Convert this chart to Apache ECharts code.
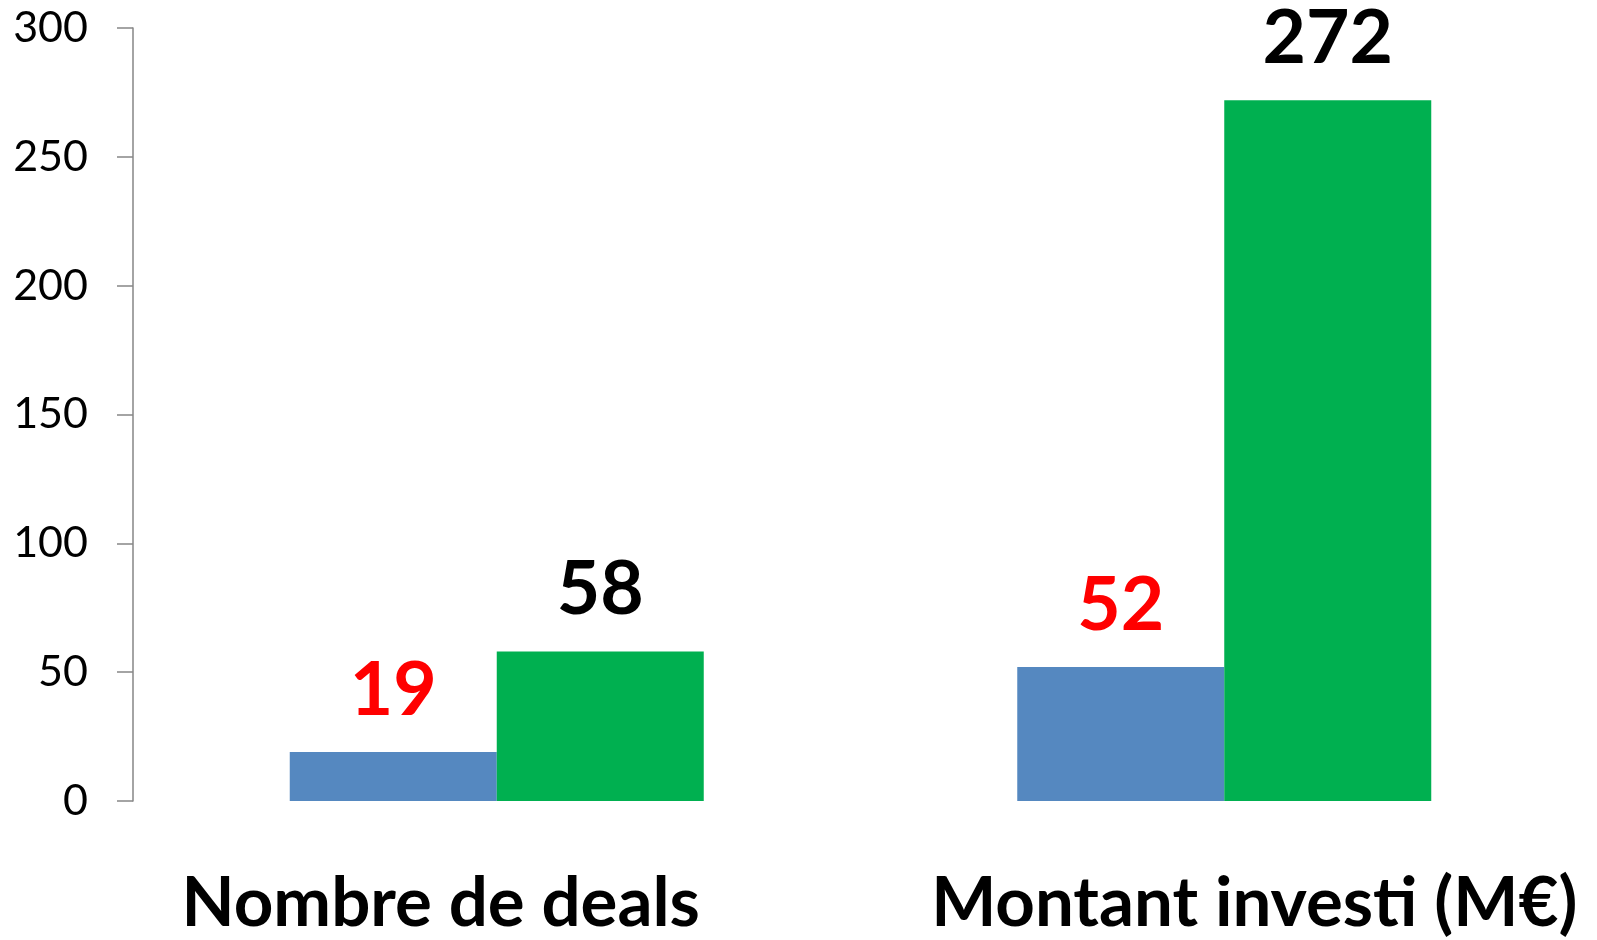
<!DOCTYPE html>
<html>
<head>
<meta charset="utf-8">
<style>
  html, body { margin: 0; padding: 0; background: #fff; }
  #chart { width: 1597px; height: 940px; }
</style>
<script src="https://cdn.jsdelivr.net/npm/echarts@6/dist/echarts.min.js"></script>
</head>
<body>
<div id="chart"></div>
<script>
// catégories et valeurs
const categories = ['Nombre de deals', 'Montant investi (M€)']
const blueValues = [19, 52]
const greenValues = [58, 272]
// graduations de l'axe Y
const yTicks = [0, 50, 100, 150, 200, 250, 300]

const chart = echarts.init(document.getElementById('chart'))

chart.setOption({
  animation: false,
  grid: {
    left: 133,
    right: 9,
    top: 28,
    bottom: 139
  },
  xAxis: {
    type: 'category',
    data: categories,
    axisLine: { show: false },
    axisTick: { show: false },
    axisLabel: {
      margin: 68,
      // décalage des libellés comme dans l'original
      formatter: (value, idx) => idx === 0 ? '{a|' + value + '}' : '{b|' + value + '}',
      rich: {
        a: {
          fontFamily: 'Lato',
          fontWeight: 'bold',
          fontSize: 69,
          color: '#000',
          padding: [0, 112, 0, 0]
        },
        b: {
          fontFamily: 'Lato',
          fontWeight: 'bold',
          fontSize: 69,
          color: '#000',
          padding: [0, 0, 0, 60]
        }
      }
    }
  },
  yAxis: {
    type: 'value',
    min: yTicks[0],
    max: yTicks[yTicks.length - 1],
    interval: yTicks[1] - yTicks[0],
    axisLine: {
      show: true,
      lineStyle: { color: '#868686', width: 1.5 }
    },
    axisTick: {
      show: true,
      length: 16,
      lineStyle: { color: '#868686', width: 1.5 }
    },
    splitLine: { show: false },
    axisLabel: {
      margin: 45,
      fontFamily: 'Lato',
      fontSize: 43,
      color: '#000'
    }
  },
  series: [{
    name: 'blue',
    type: 'bar',
    data: blueValues,
    barWidth: 207,
    barGap: '0%',
    itemStyle: { color: '#5588C0' },
    label: {
      show: true,
      position: 'top',
      distance: 24,
      fontFamily: 'Lato',
      fontWeight: 'bold',
      fontSize: 75,
      color: '#FF0000'
    }
  }, {
    name: 'green',
    type: 'bar',
    data: greenValues,
    barWidth: 207,
    barGap: '0%',
    itemStyle: { color: '#00B050' },
    label: {
      show: true,
      position: 'top',
      distance: 24,
      fontFamily: 'Lato',
      fontWeight: 'bold',
      fontSize: 75,
      color: '#000'
    }
  }]
})
</script>
</body>
</html>
